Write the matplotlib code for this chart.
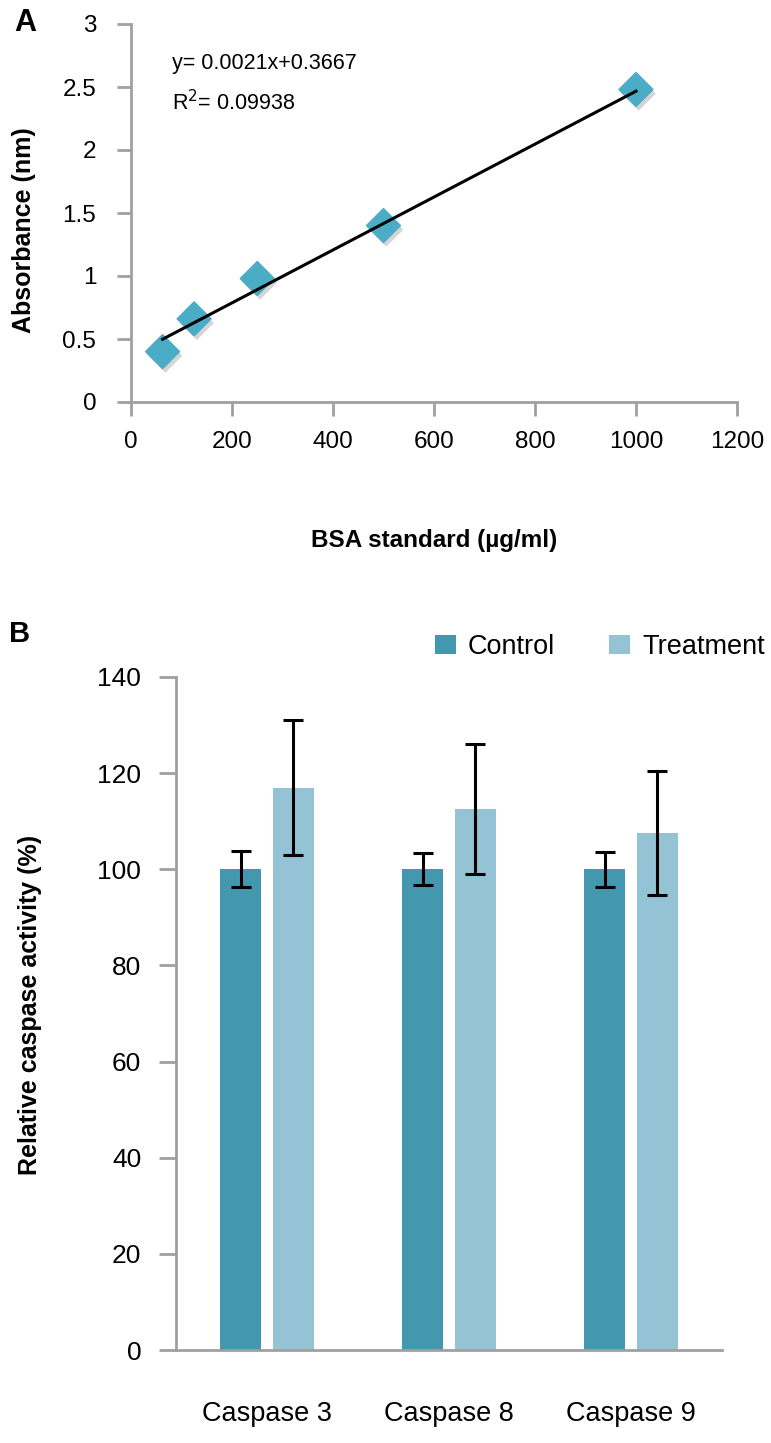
import numpy as np
import matplotlib
matplotlib.use('Agg')
import matplotlib.pyplot as plt
import matplotlib.patheffects as pe

# Panel A: BSA standard curve
bsa_conc = [62.5, 125, 250, 500, 1000]
absorbance = [0.40, 0.66, 0.98, 1.40, 2.48]
slope, intercept = 0.0021, 0.3667
eq_text = 'y= 0.0021x+0.3667'
r2_text = 'R$^2$= 0.09938'

# Panel B: caspase activity
caspases = ['Caspase 3', 'Caspase 8', 'Caspase 9']
control = [100, 100, 100]
control_err = [3.7, 3.3, 3.6]
treatment = [117, 112.5, 107.5]
treatment_err = [14, 13.5, 12.9]

W, H = 771, 1443
fig = plt.figure(figsize=(W / 100, H / 100), dpi=100)
narrow = ['Liberation Sans Narrow', 'Liberation Sans', 'DejaVu Sans']
arial = ['Liberation Sans', 'DejaVu Sans']
axcol = '#A0A0A0'


def px_axes(left, top, right, bottom):
    return fig.add_axes([left / W, 1 - bottom / H, (right - left) / W, (bottom - top) / H])


# ---- panel A ----
ax1 = px_axes(131, 24, 737, 402)
xs = np.array([bsa_conc[0], bsa_conc[-1]])
ax1.plot(xs, slope * xs + intercept, color='black', lw=2.2, zorder=3)
ax1.scatter(bsa_conc, absorbance, marker='D', s=300, color='#4BACC6', zorder=2,
            path_effects=[pe.SimplePatchShadow(offset=(2, -3), shadow_rgbFace='#888888', alpha=0.35),
                          pe.Normal()])
ax1.set_xlim(0, 1200)
ax1.set_ylim(0, 3)
ax1.set_xticks(range(0, 1201, 200))
ax1.set_yticks([0, 0.5, 1, 1.5, 2, 2.5, 3])
ax1.set_yticklabels(['0', '0.5', '1', '1.5', '2', '2.5', '3'])
for s in ['top', 'right']:
    ax1.spines[s].set_visible(False)
for s in ['left', 'bottom']:
    ax1.spines[s].set_color(axcol)
    ax1.spines[s].set_linewidth(2)
ax1.tick_params(axis='both', colors=axcol, width=2, length=10, labelcolor='black', labelsize=17.5)
ax1.tick_params(axis='y', pad=15)
ax1.tick_params(axis='x', pad=11)
for lab in ax1.get_xticklabels() + ax1.get_yticklabels():
    lab.set_family(narrow)
ax1.text(172 / W, 1 - 63 / H, eq_text, transform=fig.transFigure, fontsize=15.5,
         family=arial, va='center')
ax1.text(172 / W, 1 - 103 / H, r2_text, transform=fig.transFigure, fontsize=15.5,
         family=arial, va='center')
fig.text(434 / W, 1 - 540 / H, 'BSA standard (µg/ml)', fontsize=17.5, fontweight='bold',
         family=narrow, ha='center', va='center')
fig.text(24 / W, 1 - 230 / H, 'Absorbance (nm)', fontsize=18, fontweight='bold',
         family=narrow, ha='center', va='center', rotation=90)
fig.text(25 / W, 1 - 23 / H, 'A', fontsize=22, fontweight='bold', family=arial,
         ha='center', va='center')

# ---- panel B ----
ax2 = px_axes(176, 677, 722, 1350)
x = np.arange(len(caspases))
bw, off = 0.225, 0.143
ax2.bar(x - off, control, bw, color='#4397AF', label='Control', zorder=2)
ax2.bar(x + off, treatment, bw, color='#93C3D4', label='Treatment', zorder=2)
ax2.errorbar(x - off, control, yerr=control_err, fmt='none', ecolor='black',
             elinewidth=2.2, capsize=7, capthick=2.2, zorder=3)
ax2.errorbar(x + off, treatment, yerr=treatment_err, fmt='none', ecolor='black',
             elinewidth=2.2, capsize=7, capthick=2.2, zorder=3)
ax2.set_xlim(-0.5, 2.5)
ax2.set_ylim(0, 140)
ax2.set_yticks(range(0, 141, 20))
ax2.set_xticks(x)
ax2.set_xticklabels(caspases)
for s in ['top', 'right']:
    ax2.spines[s].set_visible(False)
for s in ['left', 'bottom']:
    ax2.spines[s].set_color(axcol)
    ax2.spines[s].set_linewidth(2)
ax2.tick_params(axis='y', colors=axcol, width=2, length=12, labelcolor='black',
                labelsize=19, pad=13)
ax2.tick_params(axis='x', length=0, labelsize=19.5, pad=37)
for lab in ax2.get_xticklabels() + ax2.get_yticklabels():
    lab.set_family(arial)
fig.text(30 / W, 1 - 1005 / H, 'Relative caspase activity (%)', fontsize=18,
         fontweight='bold', family=arial, ha='center', va='center', rotation=90)
fig.text(20 / W, 1 - 634 / H, 'B', fontsize=21, fontweight='bold', family=arial,
         ha='center', va='center')
ax2.legend(loc='center', bbox_to_anchor=(600 / W, 1 - 647 / H), bbox_transform=fig.transFigure,
           ncol=2, frameon=False, prop={'family': arial, 'size': 19.5},
           handlelength=0.75, handleheight=0.75, handletextpad=0.45, columnspacing=2.0)

fig.savefig('out.png', dpi=100)
